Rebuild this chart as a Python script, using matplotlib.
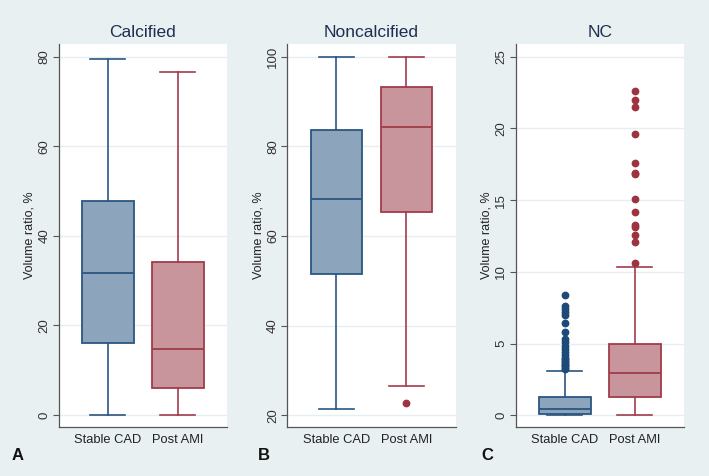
import matplotlib
matplotlib.use("Agg")
import matplotlib.pyplot as plt

# ---- data ----
groups = ["Stable CAD", "Post AMI"]
panel_titles = ["Calcified", "Noncalcified", "NC"]
panel_letters = ["A", "B", "C"]

# whisker low, Q1, median, Q3, whisker high
calc_stable = [0.0, 16.1, 31.7, 47.8, 79.5]
calc_post = [0.0, 5.95, 14.7, 34.1, 76.6]
nonc_stable = [21.4, 51.6, 68.3, 83.7, 100.0]
nonc_post = [26.5, 65.4, 84.4, 93.2, 100.0]
nc_stable = [0.0, 0.11, 0.42, 1.26, 3.11]
nc_post = [0.0, 1.26, 2.97, 4.95, 10.32]

calc_stable_out = []
calc_post_out = []
nonc_stable_out = []
nonc_post_out = [22.7]
nc_stable_out = [8.4, 7.6, 7.4, 7.2, 7.0, 6.4, 5.8, 5.3, 5.1, 4.8, 4.6, 4.4,
                 4.2, 4.0, 3.9, 3.8, 3.7, 3.6, 3.5, 3.4, 3.3, 3.2]
nc_post_out = [22.6, 22.0, 21.5, 19.6, 17.6, 16.9, 16.8, 15.1, 14.2, 13.3,
               13.1, 12.6, 12.1, 10.65]

yticks_calc = [0, 20, 40, 60, 80]
yticks_nonc = [20, 40, 60, 80, 100]
yticks_nc = [0, 5, 10, 15, 20, 25]

# ---- style ----
BG = "#E9F0F2"
GRID = "#E6EEF0"
FILL = ["#8CA4BC", "#C8959C"]
EDGE = ["#2B5680", "#A23C4A"]
OUTC = ["#1D4A78", "#9E3340"]
TITLE_C = "#1E2E52"
plt.rcParams['font.family'] = ['Liberation Sans', 'DejaVu Sans']

fig = plt.figure(figsize=(7.09, 4.76), dpi=100, facecolor=BG)

panels = [
    (calc_stable, calc_post, calc_stable_out, calc_post_out, yticks_calc, (-2.7, 82.8)),
    (nonc_stable, nonc_post, nonc_stable_out, nonc_post_out, yticks_nonc, (17.4, 102.8)),
    (nc_stable, nc_post, nc_stable_out, nc_post_out, yticks_nc, (-0.82, 25.89)),
]
lefts_px = [58.7, 287.3, 515.7]
W, H = 709.0, 476.0
letter_x_px = [12, 257.7, 481.7]

for i, (s, p, so, po, yt, yl) in enumerate(panels):
    ax = fig.add_axes([lefts_px[i] / W, (H - 427) / H, 168.3 / W, 383 / H])
    ax.set_facecolor("white")
    stats = []
    for name, q, out in [(groups[0], s, so), (groups[1], p, po)]:
        stats.append(dict(label=name, whislo=q[0], q1=q[1], med=q[2],
                          q3=q[3], whishi=q[4], fliers=out))
    for j in range(2):
        ax.bxp([stats[j]], positions=[j + 1], widths=0.74, patch_artist=True,
               showfliers=True,
               boxprops=dict(facecolor=FILL[j], edgecolor=EDGE[j], linewidth=1.3),
               medianprops=dict(color=EDGE[j], linewidth=1.3),
               whiskerprops=dict(color=EDGE[j], linewidth=1.2),
               capprops=dict(color=EDGE[j], linewidth=1.2),
               capwidths=0.5,
               flierprops=dict(marker='o', markerfacecolor=OUTC[j],
                               markeredgecolor=OUTC[j], markersize=4.6,
                               linestyle='none'),
               zorder=3)
    ax.set_xlim(0.298, 2.702)
    ax.set_ylim(*yl)
    ax.set_xticks([1, 2])
    ax.set_xticklabels(groups, fontsize=9.3, color="#222222")
    ax.tick_params(axis='x', length=0, pad=5)
    ax.set_yticks(yt)
    ax.set_yticklabels([str(v) for v in yt], rotation=90, va='center',
                       fontsize=9.5, color="#333333")
    ax.tick_params(axis='y', length=4, width=0.8, color="#555555", pad=2)
    ax.grid(axis='y', color=GRID, linewidth=1.0, zorder=0)
    ax.set_axisbelow(True)
    for sp in ['top', 'right']:
        ax.spines[sp].set_visible(False)
    for sp in ['left', 'bottom']:
        ax.spines[sp].set_color("#555555")
        ax.spines[sp].set_linewidth(0.9)
    ax.set_ylabel("Volume ratio, %", fontsize=9, color="#222222", labelpad=2)
    ax.set_title(panel_titles[i], fontsize=12.5, color=TITLE_C, pad=5)
    fig.text(letter_x_px[i] / W, 1 - 455 / H, panel_letters[i], fontsize=12,
             fontweight='bold', ha='left', va='center', color="#111111")

fig.savefig("out.png", dpi=100, facecolor=BG)
